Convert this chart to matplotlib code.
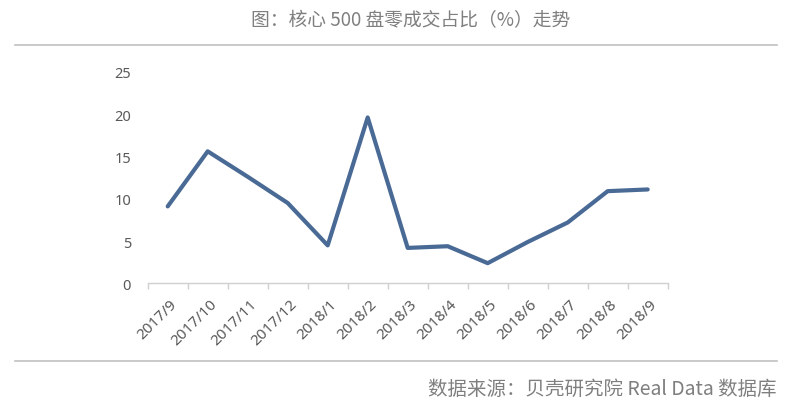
import matplotlib
matplotlib.use("Agg")
import matplotlib.pyplot as plt
from matplotlib.lines import Line2D

months = ["2017/9", "2017/10", "2017/11", "2017/12", "2018/1", "2018/2", "2018/3",
          "2018/4", "2018/5", "2018/6", "2018/7", "2018/8", "2018/9"]
zero_deal_share = [9.1, 15.6, 12.6, 9.5, 4.5, 19.6, 4.2, 4.4, 2.4, 4.9, 7.2, 10.9, 11.1]
y_ticks = [0, 5, 10, 15, 20, 25]

title_text = "图：核心 500 盘零成交占比（%）走势"
source_text = "数据来源：贝壳研究院 Real Data 数据库"

plt.rcParams['font.family'] = ['Noto Sans CJK SC', 'DejaVu Sans']

W, H = 792, 410
fig = plt.figure(figsize=(W / 100, H / 100), dpi=100)
fig.patch.set_facecolor("white")

ax = fig.add_axes([147.7 / W, 0.3061, (667.7 - 147.7) / W, 0.5166])
x = list(range(len(months)))
ax.plot(x, zero_deal_share, color="#4A6A96", linewidth=3.0, solid_joinstyle="round",
        solid_capstyle="round")

ax.set_xlim(-0.5, len(months) - 0.5)
ax.set_ylim(0, 25)
ax.set_yticks(y_ticks)
ax.set_yticklabels([str(v) for v in y_ticks], fontsize=10.5, color="#595959",
                   family=['Noto Sans', 'DejaVu Sans'])
ax.tick_params(axis="y", length=0, pad=12)

# category ticks at boundaries
ax.set_xticks([i - 0.5 for i in range(len(months) + 1)], minor=False)
ax.set_xticklabels([])
ax.tick_params(axis="x", which="major", length=4, color="#D0D0D0", width=1, direction="out")
ax.set_xticks([i + 0.05 for i in x], minor=True)
ax.set_xticklabels(months, minor=True, rotation=45, ha="right", va="top",
                   rotation_mode="anchor", fontsize=11, color="#595959",
                   family=['Noto Sans', 'DejaVu Sans'])
ax.tick_params(axis="x", which="minor", length=0, pad=9)

for s in ["top", "right", "left"]:
    ax.spines[s].set_visible(False)
ax.spines["bottom"].set_color("#D0D0D0")
ax.spines["bottom"].set_linewidth(1)
ax.set_facecolor("none")

# title and separator lines
fig.text(411 / W, 1 - 21 / H, title_text, ha="center", va="center",
         fontsize=13.5, color="#7F7F7F")
fig.add_artist(Line2D([15 / W, 777 / W], [1 - 46 / H, 1 - 46 / H],
                      color="#C0C0C0", linewidth=1.2, transform=fig.transFigure))
fig.add_artist(Line2D([15 / W, 777 / W], [1 - 362 / H, 1 - 362 / H],
                      color="#C0C0C0", linewidth=1.2, transform=fig.transFigure))
fig.text(777 / W, 1 - 389 / H, source_text, ha="right", va="center",
         fontsize=14, color="#7F7F7F")

fig.savefig("out.png", dpi=100, facecolor="white")
